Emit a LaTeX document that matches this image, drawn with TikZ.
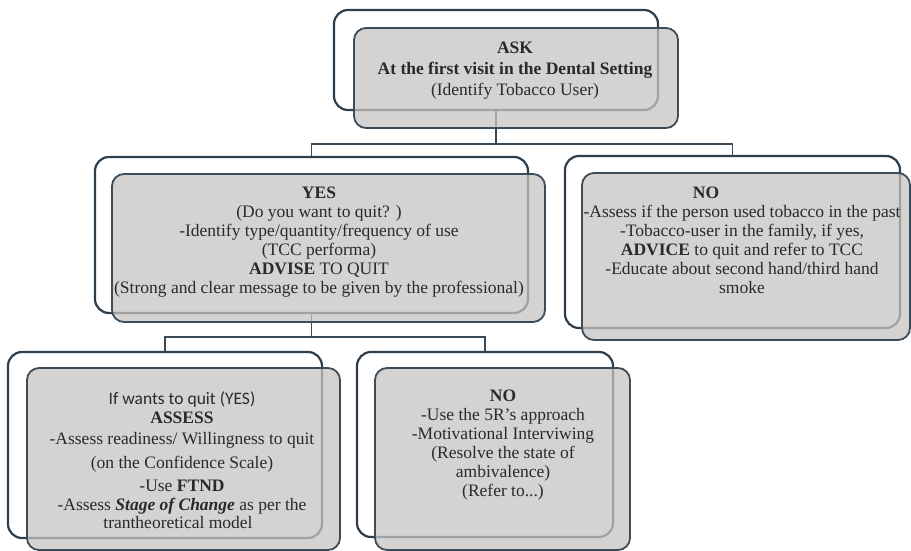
\documentclass[tikz,border=0pt]{standalone}
\usepackage{fontspec}
\setmainfont{Liberation Serif}
\newfontfamily\calib{Carlito}
\definecolor{framec}{HTML}{2E3E4B}
\definecolor{boxc}{HTML}{C6C4C2}
\definecolor{boxline}{HTML}{3C4C58}
\definecolor{linec}{HTML}{3A4A56}
\definecolor{txtc}{HTML}{2A2A2A}
\begin{document}
\begin{tikzpicture}[x=1pt,y=-1pt,
  frame/.style={draw=framec, line width=2.2pt, rounded corners=14pt, inner sep=0pt},
  graybox/.style={draw=boxline, line width=1.8pt, fill=boxc, fill opacity=0.75, rounded corners=12pt, inner sep=0pt},
  txt/.style={text=txtc, align=center, font=\fontsize{17.5}{19}\selectfont, inner sep=0pt},
  conn/.style={draw=linec, line width=1.4pt}]
\useasboundingbox (0,0) rectangle (911,551);

% outer frames
\node[frame, minimum width=324pt, minimum height=100pt] (askf) at (496,60) {};
\node[frame, minimum width=433pt, minimum height=156pt] (yesf) at (311.5,235) {};
\node[frame, minimum width=335pt, minimum height=172pt] (nof) at (732.5,242) {};
\node[frame, minimum width=314pt, minimum height=186pt] (assessf) at (165,445) {};
\node[frame, minimum width=256pt, minimum height=185pt] (notwof) at (485,444.5) {};

% connectors
\path (askf.south) ++(0,33) coordinate (j1);
\path (yesf.south) ++(0,23) coordinate (j2);
\draw[conn] (askf.south) -- (j1);
\draw[conn] (yesf.north) |- (j1) -| (nof.north);
\draw[conn] (yesf.south) -- (j2);
\draw[conn] (assessf.north) |- (j2) -| (notwof.north);

% gray boxes
\node[graybox, minimum width=324pt, minimum height=100pt] (ask) at (516,78) {};
\node[graybox, minimum width=433pt, minimum height=148pt] (yes) at (328.5,248) {};
\node[graybox, minimum width=328pt, minimum height=167pt] (no) at (746,256.5) {};
\node[graybox, minimum width=313pt, minimum height=182pt] (assess) at (183.5,459) {};
\node[graybox, minimum width=255pt, minimum height=182pt] (notwo) at (502.5,459) {};

% texts
\node[txt, font=\fontsize{17.5}{21}\selectfont] (asktxt) at (515,71) {\textbf{ASK}\\\textbf{At the first visit in the Dental Setting}\\(Identify Tobacco User)};
\node[txt] (yestxt) at (319,242) {\textbf{YES}\\(Do you want to quit? )\\-Identify type/quantity/frequency of use\\(TCC performa)\\\textbf{ADVISE} TO QUIT\\(Strong and clear message to be given by the professional)};
\node[txt] (notitle) at (706,193) {\textbf{NO}};
\node[txt] (notxt) at (742,249) {-Assess if the person used tobacco in the past\\-Tobacco-user in the family, if yes,\\\textbf{ADVICE} to quit and refer to TCC\\-Educate about second hand/third hand\\smoke};
\node[txt] (assesstxt) at (182,460) {{\calib If wants to quit (YES)}\\\textbf{ASSESS}\\[2pt]-Assess readiness/ Willingness to quit\\[5pt](on the Confidence Scale)\\[4pt]-Use \textbf{FTND}\\[0pt]-Assess \textbf{\textit{Stage of Change}} as per the\\[-1pt]\hspace*{-8pt}trantheoretical model};
\node[txt] (notwotxt) at (503,445) {\textbf{NO}\\-Use the 5R's approach\\-Motivational Interviwing\\(Resolve the state of\\ambivalence)\\(Refer to...)};
\end{tikzpicture}
\end{document}
